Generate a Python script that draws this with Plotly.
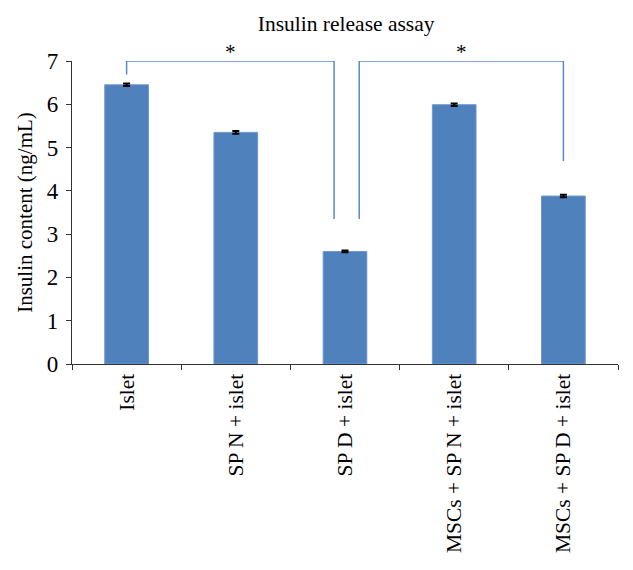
import plotly.graph_objects as go

categories = ["Islet", "SP N + islet", "SP D + islet",
              "MSCs + SP N + islet", "MSCs + SP D + islet"]
insulin = [6.45, 5.35, 2.60, 5.99, 3.88]
sem = [0.03, 0.03, 0.02, 0.03, 0.03]

# significance comparisons: (left bar index, right bar index, left leg bottom, right leg bottom)
comparisons = [(0, 2, 6.69, 3.35), (2, 4, 3.35, 4.69)]
bracket_top = 7.0
sig_label = "*"

BAR = "#4f81bd"
FONT = "Liberation Serif"

fig = go.Figure()
fig.add_trace(go.Bar(
    x=list(range(len(categories))), y=insulin,
    marker=dict(color=BAR, line=dict(color="#6f97cc", width=1)),
    width=0.4,
    error_y=dict(type="data", array=sem, color="black", thickness=2, width=3.5),
    showlegend=False,
))

for i, (a, b, ya, yb) in enumerate(comparisons):
    # legs on the shared middle bar are shifted apart
    xa = a + (0.13 if i == 1 else 0)
    xb = b - (0.1 if i == 0 else 0)
    fig.add_trace(go.Scatter(
        x=[xa, xa, xb, xb], y=[ya, bracket_top, bracket_top, yb],
        mode="lines", line=dict(color="#5b8ac6", width=1.5),
        showlegend=False, hoverinfo="skip", cliponaxis=False,
    ))
    fig.add_annotation(x=(xa + xb) / 2, y=bracket_top, yshift=9,
                       text=sig_label, showarrow=False,
                       font=dict(family=FONT, size=21, color="black"))

fig.update_layout(
    width=625, height=562,
    margin=dict(l=64, r=15, t=53, b=206),
    plot_bgcolor="white", paper_bgcolor="white",
    font=dict(family=FONT, color="black"),
    title=dict(text="Insulin release assay", x=0.541, xanchor="center",
               y=0.973, yanchor="middle",
               font=dict(family=FONT, size=21.5, color="black")),
)
fig.update_xaxes(
    type="linear", range=[-0.5, 4.5],
    tickmode="array", tickvals=list(range(len(categories))), ticktext=categories,
    tickangle=-90, showline=True, linecolor="#333", linewidth=1.2,
    ticks="", showgrid=False, zeroline=False,
    tickfont=dict(family=FONT, size=21.5, color="black"),
)
# boundary ticks between categories
fig.update_layout(xaxis2=dict(
    overlaying="x", matches="x", range=[-0.5, 4.5], tickmode="array",
    tickvals=[k - 0.5 for k in range(len(categories) + 1)], showticklabels=False,
    ticks="outside", ticklen=5, tickcolor="#333", showgrid=False, zeroline=False,
    anchor="y", side="bottom",
))
fig.add_trace(go.Scatter(x=[None], y=[None], xaxis="x2", showlegend=False))
fig.update_yaxes(
    range=[0, 7], dtick=1, showline=True, linecolor="#333", linewidth=1.2,
    ticks="outside", ticklen=5, tickcolor="#333", showgrid=False, zeroline=False,
    ticklabelstandoff=3,
    tickfont=dict(family=FONT, size=23, color="black"),
    title=dict(text="Insulin content (ng/mL)", standoff=8,
               font=dict(family=FONT, size=21, color="black")),
)

fig.write_html("out.html")
